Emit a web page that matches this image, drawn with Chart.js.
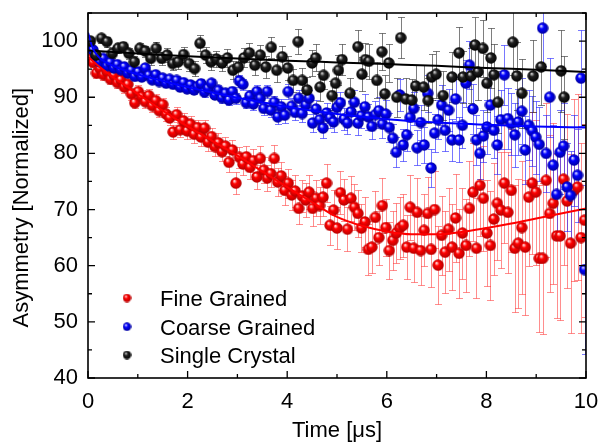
<!DOCTYPE html>
<html>
<head>
<meta charset="utf-8">
<script src="https://cdn.jsdelivr.net/npm/chart.js@4.4.1/dist/chart.umd.min.js"></script>
<style>
  html, body { margin: 0; padding: 0; background: #fff; }
  #wrap { width: 601px; height: 444px; position: relative; }
</style>
</head>
<body>
<div id="wrap"><canvas id="c"></canvas></div>
<script>
// ---------------- DATA ----------------
const timeGrained = [
  0.03,0.10,0.17,0.24,0.31,0.38,0.45,0.52,0.59,0.66,
  0.73,0.80,0.87,0.94,1.01,1.08,1.15,1.22,1.29,1.36,
  1.43,1.50,1.57,1.64,1.71,1.78,1.85,1.92,1.99,2.06,
  2.13,2.20,2.27,2.34,2.41,2.48,2.55,2.62,2.69,2.76,
  2.83,2.90,2.97,3.04,3.11,3.18,3.25,3.32,3.39,3.46,
  3.53,3.60,3.67,3.74,3.81,3.88,3.95,4.02,4.09,4.16,
  4.23,4.30,4.37,4.44,4.51,4.58,4.65,4.72,4.79,4.86,
  4.93,5.00,5.07,5.14,5.21,5.28,5.35,5.42,5.49,5.56,
  5.63,5.70,5.77,5.84,5.91,5.98,6.05,6.12,6.19,6.26,
  6.33,6.40,6.47,6.54,6.61,6.68,6.75,6.82,6.89,6.96,
  7.03,7.10,7.17,7.24,7.31,7.38,7.45,7.52,7.59,7.66,
  7.73,7.80,7.87,7.94,8.01,8.08,8.15,8.22,8.29,8.36,
  8.43,8.50,8.57,8.64,8.71,8.78,8.85,8.92,8.99,9.06,
  9.13,9.20,9.27,9.34,9.41,9.48,9.55,9.62,9.69,9.76,
  9.83,9.90,9.97
];
const fineGrained = [
  96.8,96.2,94.3,95.1,94.0,94.6,93.2,93.9,92.6,93.1,
  91.8,92.3,90.6,89.0,91.0,90.1,89.2,90.3,88.5,89.4,
  87.6,88.7,87.0,86.3,83.8,86.9,84.2,85.8,84.0,85.2,
  83.4,84.6,82.9,84.5,82.0,83.0,81.2,81.9,80.3,81.3,
  78.4,80.6,74.7,79.3,78.1,79.4,77.5,78.7,75.8,79.1,
  77.0,75.6,76.4,79.1,74.9,76.0,73.4,74.7,72.6,73.3,
  70.2,72.4,71.7,73.1,70.2,72.0,70.7,72.2,74.7,67.2,
  69.9,66.7,73.0,71.7,66.5,72.0,70.4,69.3,66.7,67.8,
  62.9,63.3,68.6,65.0,70.7,66.8,62.7,64.5,65.8,66.7,
  67.2,63.3,70.4,63.1,69.5,62.7,66.3,69.3,62.9,70.0,
  60.1,65.4,62.4,66.5,63.3,68.5,62.2,65.8,63.6,70.2,
  73.1,63.1,74.3,72.0,65.8,63.6,68.3,71.1,69.9,74.7,
  69.5,73.4,63.1,64.0,66.8,63.3,72.2,74.7,73.1,61.3,
  61.3,75.2,69.3,71.1,65.3,65.3,75.4,71.5,64.0,73.4,
  74.0,65.0,68.1
];
const fineErr = [
  0.8,0.8,0.9,0.8,0.9,0.9,0.9,1.0,0.9,1.0,
  1.0,1.0,1.1,1.0,1.1,1.1,1.1,1.2,1.1,1.2,
  1.2,1.2,1.3,1.2,1.3,1.3,1.3,1.4,1.4,1.4,
  1.5,1.4,1.5,1.5,1.6,1.6,1.6,1.7,1.7,1.7,
  1.8,1.8,1.9,1.9,2.0,2.0,2.1,2.1,2.2,2.2,
  2.3,2.3,2.4,2.4,2.5,2.5,2.6,2.6,2.7,2.8,
  2.8,2.9,3.0,3.0,3.1,3.2,3.3,3.3,3.4,3.5,
  3.6,3.7,3.8,3.8,3.9,4.0,4.1,4.2,4.3,4.4,
  4.5,4.6,4.7,4.8,4.9,5.0,5.1,5.2,5.3,5.5,
  5.6,5.7,5.8,6.0,6.1,6.2,6.4,6.5,6.7,6.8,
  7.0,7.1,7.3,7.4,7.6,7.8,7.9,8.1,8.3,8.5,
  8.7,8.9,9.1,9.3,9.5,9.7,9.9,10.1,10.3,10.6,
  10.8,11.0,11.3,11.5,11.8,12.0,12.3,12.6,12.9,13.1,
  13.4,13.7,14.0,14.3,14.6,14.9,15.2,15.5,15.9,16.2,
  16.5,16.9,17.2
];
const coarseGrained = [
  99.8,98.4,97.2,96.3,96.9,95.6,96.2,95.2,95.8,94.9,
  95.4,94.3,94.8,93.7,94.5,93.6,95.2,93.9,93.1,94.0,
  92.8,93.4,92.5,93.2,92.3,93.0,91.8,92.6,91.5,92.2,
  91.3,91.9,92.4,90.9,91.6,92.5,90.4,91.2,89.9,90.7,
  89.5,91.0,89.8,92.9,92.3,89.0,90.2,88.8,91.0,89.8,
  88.0,91.0,87.7,89.1,86.5,88.3,86.8,91.0,88.4,87.3,
  89.8,87.1,88.6,89.8,85.4,87.9,86.0,84.5,87.2,86.3,
  85.6,88.2,89.0,86.1,85.4,87.4,89.1,85.4,86.7,88.3,
  86.5,84.8,86.9,87.6,85.2,87.0,84.6,82.7,80.2,90.4,
  81.5,83.3,86.4,88.0,81.0,85.5,81.5,90.7,77.4,83.6,
  86.0,88.6,84.1,87.7,82.4,89.7,82.4,85.0,92.5,95.7,
  87.9,82.4,80.0,83.1,84.7,88.6,84.1,81.5,86.0,94.0,
  86.2,85.3,83.3,85.6,87.5,80.6,85.0,84.0,82.9,81.6,
  102.3,80.0,90.0,77.9,72.7,80.2,81.3,74.0,72.5,78.8,
  76.1,93.4,59.3
];
const coarseErr = [
  0.4,0.4,0.5,0.4,0.5,0.5,0.5,0.5,0.5,0.5,
  0.5,0.5,0.6,0.5,0.6,0.6,0.6,0.6,0.6,0.6,
  0.6,0.6,0.7,0.6,0.7,0.7,0.7,0.7,0.7,0.7,
  0.8,0.7,0.8,0.8,0.8,0.8,0.8,0.9,0.9,0.9,
  0.9,0.9,1.0,1.0,1.0,1.0,1.1,1.1,1.1,1.1,
  1.2,1.2,1.2,1.2,1.3,1.3,1.3,1.3,1.4,1.4,
  1.4,1.5,1.5,1.5,1.6,1.6,1.7,1.7,1.7,1.8,
  1.8,1.9,1.9,1.9,2.0,2.0,2.1,2.1,2.2,2.2,
  2.3,2.3,2.4,2.4,2.5,2.5,2.6,2.6,2.7,2.8,
  2.8,2.9,2.9,3.0,3.1,3.1,3.2,3.3,3.4,3.4,
  3.5,3.6,3.7,3.7,3.8,3.9,4.0,4.1,4.2,4.3,
  4.4,4.5,4.6,4.7,4.8,4.9,5.0,5.1,5.2,5.3,
  5.4,5.5,5.7,5.8,5.9,6.0,6.2,6.3,6.5,6.6,
  6.7,6.9,7.0,7.2,7.3,7.5,7.6,7.8,8.0,8.1,
  8.3,8.5,15.0
];
const timeSingle = [
  0.05,0.16,0.27,0.38,0.49,0.60,0.71,0.82,0.93,1.04,
  1.15,1.26,1.37,1.48,1.59,1.70,1.81,1.92,2.03,2.14,
  2.25,2.36,2.47,2.58,2.69,2.80,2.91,3.02,3.13,3.24,
  3.35,3.46,3.57,3.68,3.79,3.90,4.01,4.12,4.22,
  4.30,4.40,4.50,4.57,4.66,4.73,4.90,4.97,5.03,5.10,
  5.26,5.42,5.50,5.57,5.64,5.80,5.90,5.96,6.04,6.20,
  6.28,6.38,6.50,6.58,6.74,6.83,6.90,6.99,7.13,7.31,
  7.45,7.53,7.69,7.77,7.83,7.93,8.01,8.09,8.15,8.23,
  8.53,8.61,8.71,8.94,9.10,9.50,9.56
];
const singleCrystal = [
  100.0,97.5,100.5,99.9,97.8,98.7,99.0,97.8,96.3,98.7,
  98.2,96.9,98.7,96.9,97.5,96.0,96.3,97.6,96.0,95.1,
  99.6,97.5,96.3,96.8,96.1,97.0,94.8,95.4,97.0,97.9,
  95.7,97.5,95.4,98.9,94.8,97.2,95.2,93.0,99.9,
  93.0,91.3,96.1,97.0,91.8,93.9,90.3,92.5,94.8,96.7,
  90.7,99.0,94.1,96.7,96.4,93.0,98.1,90.6,96.1,90.0,
  100.6,89.7,89.5,92.0,91.8,89.4,93.6,94.1,90.3,93.6,
  97.9,93.6,93.8,99.3,94.5,98.7,92.5,97.0,94.0,89.1,
  99.8,93.8,90.7,93.8,95.4,94.7,90.0
];
const singleErr = [
  0.8,0.8,0.8,0.9,0.9,0.9,0.9,1.0,1.0,1.0,
  1.0,1.1,1.1,1.1,1.2,1.2,1.2,1.3,1.3,1.3,
  1.4,1.4,1.4,1.5,1.5,1.6,1.6,1.6,1.7,1.7,
  1.8,1.8,1.9,1.9,2.0,2.0,2.1,2.1,2.2,
  2.2,2.3,2.3,2.4,2.4,2.5,2.6,2.6,2.7,2.7,
  2.8,2.9,3.0,3.0,3.1,3.2,3.3,3.3,3.4,3.5,
  3.6,3.7,3.8,3.8,4.0,4.0,4.1,4.2,4.3,4.5,
  4.6,4.7,4.9,5.0,5.0,5.1,5.2,5.3,5.4,5.5,
  5.9,6.0,6.1,6.4,6.7,7.3,7.4
];
// fit curves
const fitTimeFine = [0,0.25,0.5,1,1.5,2,2.5,3,3.5,4,4.5,5,5.5,6,6.5,7,7.5,8,8.5,9,9.5,10];
const fitFine     = [97.2,95.3,93.6,90.6,87.6,84.8,82.2,79.6,76.8,74.0,71.3,68.7,67.1,66.1,65.6,65.6,66.0,66.7,67.5,68.4,69.3,70.2];
const fitTimeCoarse = [0,0.1,0.25,0.5,1,1.5,2,3,4,5,6,7,8,9,10];
const fitCoarse     = [101.5,98.6,96.9,95.6,94.1,92.9,91.8,89.9,88.3,87.0,86.1,85.5,85.1,84.8,84.6];
const fitTimeSingle = [0,1,2,3,4,5,6,7,8,9,10];
const fitSingle     = [98.3,97.8,97.3,96.9,96.5,96.2,95.9,95.6,95.2,94.9,94.5];

const seriesLabels = ['Fine Grained', 'Coarse Grained', 'Single Crystal'];
const xTickLabels = [0, 2, 4, 6, 8, 10];
const yTickLabels = [40, 50, 60, 70, 80, 90, 100];

// ---------------- STYLE HELPERS ----------------
function sphere(light, base, dark, d) {
  const c = document.createElement('canvas');
  c.width = d; c.height = d;
  const g = c.getContext('2d');
  const r = d / 2;
  const grad = g.createRadialGradient(r * 0.72, r * 0.62, r * 0.05, r, r, r);
  grad.addColorStop(0, light);
  grad.addColorStop(0.35, base);
  grad.addColorStop(1, dark);
  g.fillStyle = grad;
  g.beginPath(); g.arc(r, r, r - 0.3, 0, Math.PI * 2); g.fill();
  return c;
}
const redBall   = sphere('#ffe8e8', '#ff0000', '#b00000', 12);
const blueBall  = sphere('#e8e8ff', '#0000ff', '#000096', 12);
const blackBall = sphere('#d8d8d8', '#202020', '#000000', 12);
const redBallS   = sphere('#ffe8e8', '#ff0000', '#b00000', 9);
const blueBallS  = sphere('#e8e8ff', '#0000ff', '#000096', 9);
const blackBallS = sphere('#d8d8d8', '#202020', '#000000', 9);

const pts = (xs, ys) => xs.map((x, i) => ({ x: x, y: ys[i] }));

// ---------------- PLUGINS ----------------
const errorBars = {
  id: 'errorBars',
  beforeDatasetsDraw(chart) {
    const { ctx, chartArea: a, scales: { x, y } } = chart;
    ctx.save();
    ctx.beginPath();
    ctx.rect(a.left, a.top, a.right - a.left, a.bottom - a.top);
    ctx.clip();
    chart.data.datasets.forEach(ds => {
      if (!ds.errors) return;
      ctx.strokeStyle = ds.errorColor;
      ctx.lineWidth = 1;
      ctx.beginPath();
      ds.data.forEach((p, i) => {
        const e = ds.errors[i];
        const px = Math.round(x.getPixelForValue(p.x)) + 0.5;
        const y1 = Math.round(y.getPixelForValue(p.y + e)) + 0.5;
        const y2 = Math.round(y.getPixelForValue(p.y - e)) + 0.5;
        ctx.moveTo(px, y1); ctx.lineTo(px, y2);
        ctx.moveTo(px - 3.5, y1); ctx.lineTo(px + 3.5, y1);
        ctx.moveTo(px - 3.5, y2); ctx.lineTo(px + 3.5, y2);
      });
      ctx.stroke();
    });
    ctx.restore();
  }
};

const frame = {
  id: 'frame',
  afterDatasetsDraw(chart) {
    const { ctx, chartArea: a, scales: { x, y } } = chart;
    ctx.save();
    ctx.strokeStyle = '#000';
    ctx.lineWidth = 1.6;
    ctx.strokeRect(a.left, a.top, a.right - a.left, a.bottom - a.top);
    ctx.lineWidth = 1.3;
    ctx.beginPath();
    for (let v = x.min; v <= x.max + 1e-9; v += 1) {
      const p = x.getPixelForValue(v);
      const L = (Math.round(v) % 2 === 0) ? 7 : 4;
      ctx.moveTo(p, a.bottom); ctx.lineTo(p, a.bottom - L);
      ctx.moveTo(p, a.top); ctx.lineTo(p, a.top + L);
    }
    for (let v = 40; v <= y.max + 1e-9; v += 5) {
      const p = y.getPixelForValue(v);
      const L = (v % 10 === 0) ? 7 : 4;
      ctx.moveTo(a.left, p); ctx.lineTo(a.left + L, p);
      ctx.moveTo(a.right, p); ctx.lineTo(a.right - L, p);
    }
    ctx.stroke();
    ctx.restore();
  },
  afterDraw(chart) {
    const { ctx } = chart;
    const balls = [redBallS, blueBallS, blackBallS];
    const ys = [298, 326.7, 355];
    ctx.save();
    ctx.font = '22px "Liberation Sans", Arial, sans-serif';
    ctx.fillStyle = '#000';
    ctx.textBaseline = 'alphabetic';
    ctx.textAlign = 'left';
    seriesLabels.forEach((t, i) => {
      const b = balls[i];
      ctx.drawImage(b, 127 - b.width / 2, ys[i] - b.height / 2);
      ctx.fillText(t, 160, ys[i] + 8);
    });
    ctx.restore();
  }
};

// ---------------- CHART ----------------
const fontTick = { family: '"Liberation Sans", Arial, sans-serif', size: 22 };
const noPad = s => { s.paddingLeft = 0; s.paddingRight = 0; s.paddingTop = 0; s.paddingBottom = 0; };

new Chart(document.getElementById('c'), {
  type: 'scatter',
  data: {
    datasets: [
      { type: 'line', label: 'fit FG', data: pts(fitTimeFine, fitFine), borderColor: '#ff0000', borderWidth: 2,
        pointRadius: 0, cubicInterpolationMode: 'monotone', fill: false, order: 0 },
      { type: 'line', label: 'fit CG', data: pts(fitTimeCoarse, fitCoarse), borderColor: '#0000ff', borderWidth: 2,
        pointRadius: 0, cubicInterpolationMode: 'monotone', fill: false, order: 0 },
      { type: 'line', label: 'fit SC', data: pts(fitTimeSingle, fitSingle), borderColor: '#000000', borderWidth: 2,
        pointRadius: 0, cubicInterpolationMode: 'monotone', fill: false, order: 0 },
      { label: seriesLabels[0], data: pts(timeGrained, fineGrained), errors: fineErr,
        errorColor: 'rgba(255,50,50,0.55)', pointStyle: redBall, pointRadius: 5, order: 3 },
      { label: seriesLabels[1], data: pts(timeGrained, coarseGrained), errors: coarseErr,
        errorColor: 'rgba(30,30,255,0.6)', pointStyle: blueBall, pointRadius: 5, order: 2 },
      { label: seriesLabels[2], data: pts(timeSingle, singleCrystal), errors: singleErr,
        errorColor: 'rgba(40,40,40,0.6)', pointStyle: blackBall, pointRadius: 5, order: 1 }
    ]
  },
  options: {
    responsive: true,
    maintainAspectRatio: false,
    animation: false,
    events: [],
    clip: 0,
    layout: { padding: { top: 13, right: 15, left: 0, bottom: 0 } },
    plugins: { legend: { display: false }, tooltip: { enabled: false } },
    scales: {
      x: {
        type: 'linear', min: 0, max: 10,
        afterFit: s => { s.height = 66; noPad(s); },
        afterBuildTicks: s => { s.ticks = xTickLabels.map(v => ({ value: v })); },
        ticks: { font: fontTick, color: '#000', padding: 11, maxRotation: 0 },
        grid: { display: false, drawTicks: false },
        border: { display: false },
        title: { display: true, text: 'Time [μs]', color: '#000',
                 font: { family: '"Liberation Sans", Arial, sans-serif', size: 22 }, padding: { top: 0, bottom: 0 } }
      },
      y: {
        type: 'linear', min: 40, max: 105,
        afterFit: s => { s.width = 88; noPad(s); },
        afterBuildTicks: s => { s.ticks = yTickLabels.map(v => ({ value: v })); },
        ticks: { font: fontTick, color: '#000', padding: 10 },
        grid: { display: false, drawTicks: false },
        border: { display: false },
        title: { display: true, text: 'Asymmetry [Normalized]\u00a0\u00a0\u00a0\u00a0', color: '#000',
                 font: { family: '"Liberation Sans", Arial, sans-serif', size: 22 }, padding: { top: 9, bottom: 0 } }
      }
    }
  },
  plugins: [errorBars, frame]
});
</script>
</body>
</html>
